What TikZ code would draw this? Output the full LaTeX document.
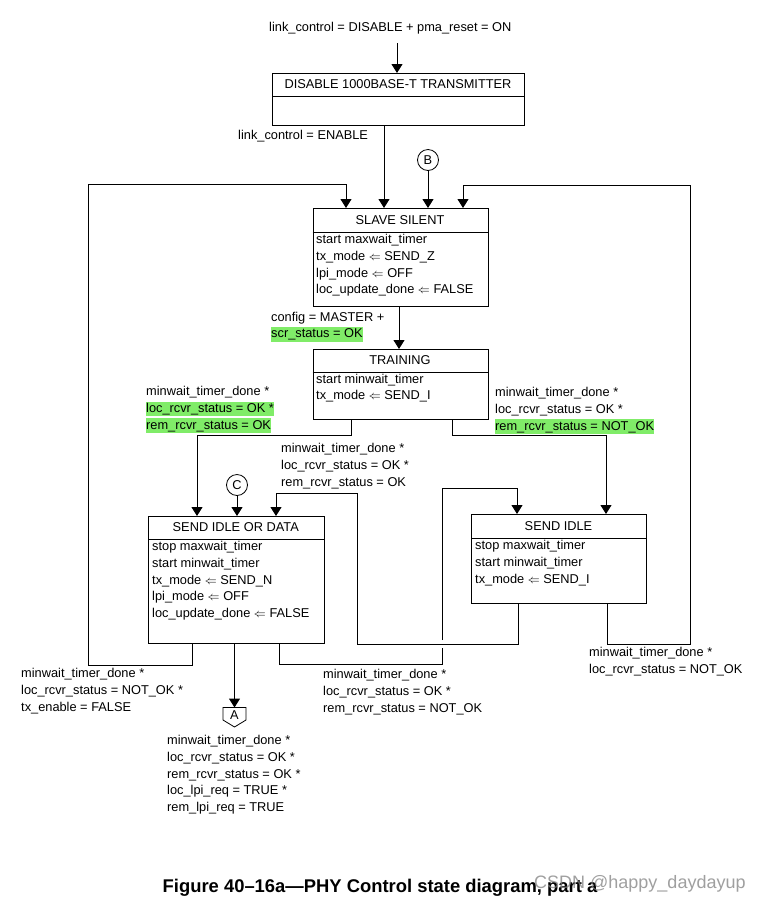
\documentclass[tikz,border=0pt]{standalone}
\usepackage{fontspec}
\setmainfont{Liberation Sans}
\usetikzlibrary{arrows.meta}
\definecolor{hlgreen}{HTML}{80EC68}
\newcommand\fs{\fontsize{12.8}{16.6}\selectfont}
\newcommand\hlg[1]{{\setlength{\fboxsep}{0pt}\colorbox{hlgreen}{\vrule width0pt height10.6pt depth4pt\relax #1}}}
\newcommand\la{$\Leftarrow$}
\begin{document}
\begin{tikzpicture}[x=1pt,y=-1pt,
  every node/.style={font=\fs},
  box/.style={draw, line width=1pt, inner sep=0pt, anchor=north west},
  lbl/.style={anchor=north west, inner sep=0pt, align=left},
  ttl/.style={inner sep=0pt, anchor=center},
  conn/.style={draw, circle, line width=0.8pt, minimum size=21pt, inner sep=0pt},
  arr/.style={line width=1pt, -{Triangle[width=11pt,length=9pt]}},
  wire/.style={line width=1pt}]
\fill[white] (0,0) rectangle (760,906);
\useasboundingbox (0,0) rectangle (760,906);

% state boxes
\node[box, minimum width=252pt, minimum height=52pt] (dis) at (272,73) {};
\draw[wire] ([yshift=-23pt]dis.north west) -- ([yshift=-23pt]dis.north east);
\node[ttl] (disT) at (398,84.5) {DISABLE 1000BASE-T TRANSMITTER};

\node[box, minimum width=175pt, minimum height=98pt] (ss) at (312.5,208) {};
\draw[wire] ([yshift=-24pt]ss.north west) -- ([yshift=-24pt]ss.north east);
\node[ttl] (ssT) at (400,220) {SLAVE SILENT};
\node[lbl] (ssB) at (316,232) {\strut start maxwait\_timer\\tx\_mode \la{} SEND\_Z\\lpi\_mode \la{} OFF\\loc\_update\_done \la{} FALSE};

\node[box, minimum width=175pt, minimum height=70pt] (tr) at (312.5,349) {};
\draw[wire] ([yshift=-23pt]tr.north west) -- ([yshift=-23pt]tr.north east);
\node[ttl] (trT) at (400,360.5) {TRAINING};
\node[lbl] (trB) at (316,371.5) {\strut start minwait\_timer\\tx\_mode \la{} SEND\_I};

\node[box, minimum width=175.5pt, minimum height=127pt] (sid) at (148,516) {};
\draw[wire] ([yshift=-23pt]sid.north west) -- ([yshift=-23pt]sid.north east);
\node[ttl] (sidT) at (235.75,527.5) {SEND IDLE OR DATA};
\node[lbl] (sidB) at (152,539) {\strut stop maxwait\_timer\\start minwait\_timer\\tx\_mode \la{} SEND\_N\\lpi\_mode \la{} OFF\\loc\_update\_done \la{} FALSE};

\node[box, minimum width=175pt, minimum height=89pt] (si) at (471,514) {};
\draw[wire] ([yshift=-24pt]si.north west) -- ([yshift=-24pt]si.north east);
\node[ttl] (siT) at (558.5,526) {SEND IDLE};
\node[lbl] (siB) at (475,538) {\strut stop maxwait\_timer\\start minwait\_timer\\tx\_mode \la{} SEND\_I};

% connectors (circles and off-page)
\node[conn] (B) at (428,160) {B};
\node[conn] (C) at (237,485) {C};
\node[inner sep=0pt] (A) at (234.5,715.5) {A};
\draw[line width=0.8pt] ([shift={(-11.5,-8)}]A.center) -- ([shift={(11.5,-8)}]A.center)
  -- ([shift={(11.5,4.5)}]A.center) -- ([shift={(0,11.5)}]A.center)
  -- ([shift={(-11.5,4.5)}]A.center) -- cycle;
\coordinate (Atop) at ([shift={(0,-8)}]A.center);

% labels
\node[lbl] (l0) at (269,20) {\strut link\_control = DISABLE + pma\_reset = ON};
\node[lbl] (l1) at (238,128) {\strut link\_control = ENABLE};
\node[lbl] (l2) at (271,309.5) {\strut config = MASTER +\\\hlg{scr\_status = OK}};
\node[lbl] (l3) at (146,384) {\strut minwait\_timer\_done *\\\hlg{loc\_rcvr\_status = OK *}\\\hlg{rem\_rcvr\_status = OK}};
\node[lbl] (l4) at (495,385) {\strut minwait\_timer\_done *\\loc\_rcvr\_status = OK *\\\hlg{rem\_rcvr\_status = NOT\_OK}};
\node[lbl] (l5) at (281,441) {\strut minwait\_timer\_done *\\loc\_rcvr\_status = OK *\\rem\_rcvr\_status = OK};
\node[lbl] (l6) at (21,666) {\strut minwait\_timer\_done *\\loc\_rcvr\_status = NOT\_OK *\\tx\_enable = FALSE};
\node[lbl] (l7) at (323,667) {\strut minwait\_timer\_done *\\loc\_rcvr\_status = OK *\\rem\_rcvr\_status = NOT\_OK};
\node[lbl] (l8) at (589,645) {\strut minwait\_timer\_done *\\loc\_rcvr\_status = NOT\_OK};
\node[lbl] (l9) at (167,733) {\strut minwait\_timer\_done *\\loc\_rcvr\_status = OK *\\rem\_rcvr\_status = OK *\\loc\_lpi\_req = TRUE *\\rem\_lpi\_req = TRUE};

% transitions
\coordinate (s0) at (397,43);
\draw[arr] (s0) -- (s0 |- dis.north);
\draw[arr] (384,0 |- dis.south) -- (384,0 |- ss.north);
\draw[arr] (B) -- (B |- ss.north);
\draw[arr] (192,0 |- sid.south) -- (192,665) -- (88,665) -- (88,184) -- (346,184) -- (346,0 |- ss.north);
\draw[arr] (607,0 |- si.south) -- (607,644) -- (690,644) -- (690,185) -- (463,185) -- (463,0 |- ss.north);
\draw[arr] (399,0 |- ss.south) -- (399,0 |- tr.north);
\draw[arr] (351,0 |- tr.south) -- (351,435) -- (197,435) -- (197,0 |- sid.north);
\draw[arr] (452,0 |- tr.south) -- (452,435) -- (606,435) -- (606,0 |- si.north);
\draw[arr] (C) -- (C |- sid.north);
\draw[arr] (518,0 |- si.south) -- (518,644) -- (357,644) -- (357,493) -- (276,493) -- (276,0 |- sid.north);
\draw[arr] (279,0 |- sid.south) -- (279,664) -- (442,664) -- (442,648) (442,640) -- (442,488) -- (517,488) -- (517,0 |- si.north);
\draw[arr] (234.5,0 |- sid.south) -- (Atop);

% caption
\node[inner sep=0pt, font=\fontsize{18.4}{22}\selectfont\bfseries] (cap) at (380,888) {Figure 40–16a—PHY Control state diagram, part a};
\node[inner sep=0pt, anchor=west, text=gray, text opacity=0.75, font=\fontsize{18}{20}\selectfont] (wm) at (534,884) {CSDN @happy\_daydayup};
\end{tikzpicture}
\end{document}
